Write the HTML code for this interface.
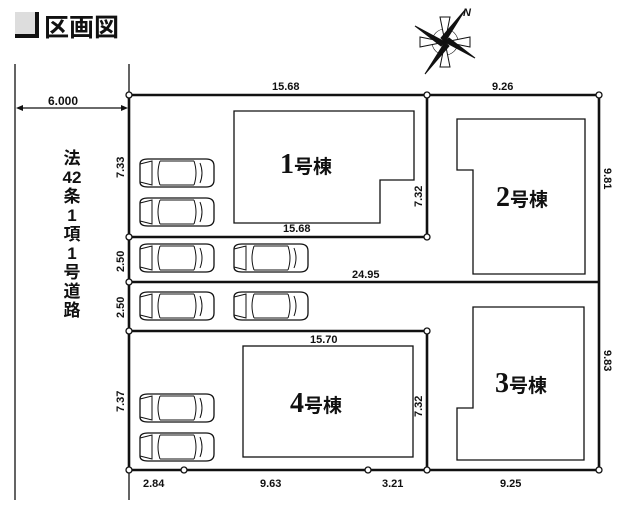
<!DOCTYPE html>
<html><head><meta charset="utf-8"><style>
body{margin:0;background:#fff;}
svg{display:block}
text{font-family:"Liberation Sans","Noto Sans CJK JP",sans-serif;font-weight:bold;fill:#111}
.s{font-family:"Liberation Serif","Noto Serif CJK SC",serif}
</style></head><body>
<svg width="622" height="508" viewBox="0 0 622 508" xmlns="http://www.w3.org/2000/svg">
<defs>
<g id="car">
<path d="M2,6 Q2,1 10,1 L68,1 Q76,1 76,8 L76,22 Q76,29 68,29 L10,29 Q2,29 2,24 Z" fill="#fff" stroke="#111" stroke-width="1.3"/>
<path d="M2,6 L14,3 L14,27 L2,24" fill="none" stroke="#111" stroke-width="1"/>
<path d="M22,3 Q18,15 22,27 M56,3 Q60,15 56,27 M62,5 Q66,15 62,25" fill="none" stroke="#111" stroke-width="1"/>
<line x1="22" y1="3" x2="56" y2="3" stroke="#111"/><line x1="22" y1="27" x2="56" y2="27" stroke="#111"/>
</g>
</defs>
<rect x="15" y="34" width="24" height="4" fill="#111"/><rect x="35" y="12" width="4" height="26" fill="#111"/>
<rect x="15" y="12" width="20" height="22" fill="#ddd"/>
<text x="44" y="36" font-size="25">区画図</text>
<!-- compass -->
<g transform="translate(445,42)" stroke="#111" stroke-width="1">
<circle r="13" fill="none" stroke-width="0.6"/>
<polygon points="-25,5 0,0 -25,-5" fill="#fff"/><polygon points="25,5 0,0 25,-5" fill="#fff"/>
<polygon points="5,-25 0,0 -5,-25" fill="#fff"/><polygon points="5,25 0,0 -5,25" fill="#fff"/>
<polygon points="-30,-16 0,0 -4,4" fill="#111"/><polygon points="30,16 0,0 4,-4" fill="#111"/>
<polygon points="-20,32 0,0 4,4" fill="#111"/><polygon points="20,-32 0,0 -4,-4" fill="#111"/>
</g>
<text x="463" y="16" font-size="11" font-style="italic">N</text>
<!-- road -->
<line x1="15" y1="64" x2="15" y2="500" stroke="#111" stroke-width="1.3"/>
<line x1="129" y1="64" x2="129" y2="500" stroke="#111" stroke-width="1.3"/>
<line x1="18" y1="108" x2="125" y2="108" stroke="#111" stroke-width="1.2"/>
<polygon points="16,108 23,105 23,111" fill="#111"/><polygon points="128,108 121,105 121,111" fill="#111"/>
<text x="48" y="105" font-size="12">6.000</text>
<g font-size="17" text-anchor="middle">
<text x="72" y="164">法</text><text x="72" y="183">42</text><text x="72" y="202">条</text><text x="72" y="221">1</text><text x="72" y="240">項</text><text x="72" y="259">1</text><text x="72" y="278">号</text><text x="72" y="297">道</text><text x="72" y="316">路</text>
</g>
<!-- lot lines -->
<g stroke="#111" stroke-width="2.6" fill="none">
<polyline points="129,95 599,95 599,470 129,470 129,95"/>
<line x1="427" y1="95" x2="427" y2="237"/>
<line x1="129" y1="237" x2="427" y2="237"/>
<line x1="129" y1="282" x2="599" y2="282"/>
<line x1="129" y1="331" x2="427" y2="331"/>
<line x1="427" y1="331" x2="427" y2="470"/>
</g>
<g fill="#fff" stroke="#111" stroke-width="1.3">
<circle cx="129" cy="95" r="3"/><circle cx="427" cy="95" r="3"/><circle cx="599" cy="95" r="3"/>
<circle cx="129" cy="237" r="3"/><circle cx="427" cy="237" r="3"/><circle cx="129" cy="282" r="3"/>
<circle cx="129" cy="331" r="3"/><circle cx="427" cy="331" r="3"/>
<circle cx="129" cy="470" r="3"/><circle cx="184" cy="470" r="3"/><circle cx="368" cy="470" r="3"/><circle cx="427" cy="470" r="3"/><circle cx="599" cy="470" r="3"/>
</g>
<!-- buildings -->
<g fill="none" stroke="#111" stroke-width="1.3">
<polygon points="234,111 414,111 414,180 380,180 380,223 234,223"/>
<polygon points="457,119 585,119 585,274 473,274 473,170 457,170"/>
<polygon points="473,307 584,307 584,460 457,460 457,408 473,408"/>
<rect x="243" y="346" width="170" height="111"/>
</g>
<g class="s" font-size="28">
<text class="s" x="280" y="173">1<tspan font-size="19" font-family="Noto Sans CJK JP,sans-serif">号棟</tspan></text>
<text class="s" x="496" y="206">2<tspan font-size="19" font-family="Noto Sans CJK JP,sans-serif">号棟</tspan></text>
<text class="s" x="495" y="392">3<tspan font-size="19" font-family="Noto Sans CJK JP,sans-serif">号棟</tspan></text>
<text class="s" x="290" y="412">4<tspan font-size="19" font-family="Noto Sans CJK JP,sans-serif">号棟</tspan></text>
</g>
<!-- cars -->
<use href="#car" x="138" y="158"/><use href="#car" x="138" y="197"/>
<use href="#car" x="138" y="243"/><use href="#car" x="232" y="243"/>
<use href="#car" x="138" y="291"/><use href="#car" x="232" y="291"/>
<use href="#car" x="138" y="393"/><use href="#car" x="138" y="432"/>
<!-- dims -->
<g font-size="11">
<text x="272" y="90">15.68</text><text x="492" y="90">9.26</text>
<text x="283" y="232">15.68</text><text x="352" y="278">24.95</text>
<text x="310" y="343">15.70</text>
<text x="143" y="487">2.84</text><text x="260" y="487">9.63</text><text x="382" y="487">3.21</text><text x="500" y="487">9.25</text>
<text transform="translate(124,178) rotate(-90)">7.33</text>
<text transform="translate(124,272) rotate(-90)">2.50</text>
<text transform="translate(124,318) rotate(-90)">2.50</text>
<text transform="translate(124,412) rotate(-90)">7.37</text>
<text transform="translate(422,207) rotate(-90)">7.32</text>
<text transform="translate(422,417) rotate(-90)">7.32</text>
<text transform="translate(604,168) rotate(90)">9.81</text>
<text transform="translate(604,350) rotate(90)">9.83</text>
</g>
</svg>
</body></html>
